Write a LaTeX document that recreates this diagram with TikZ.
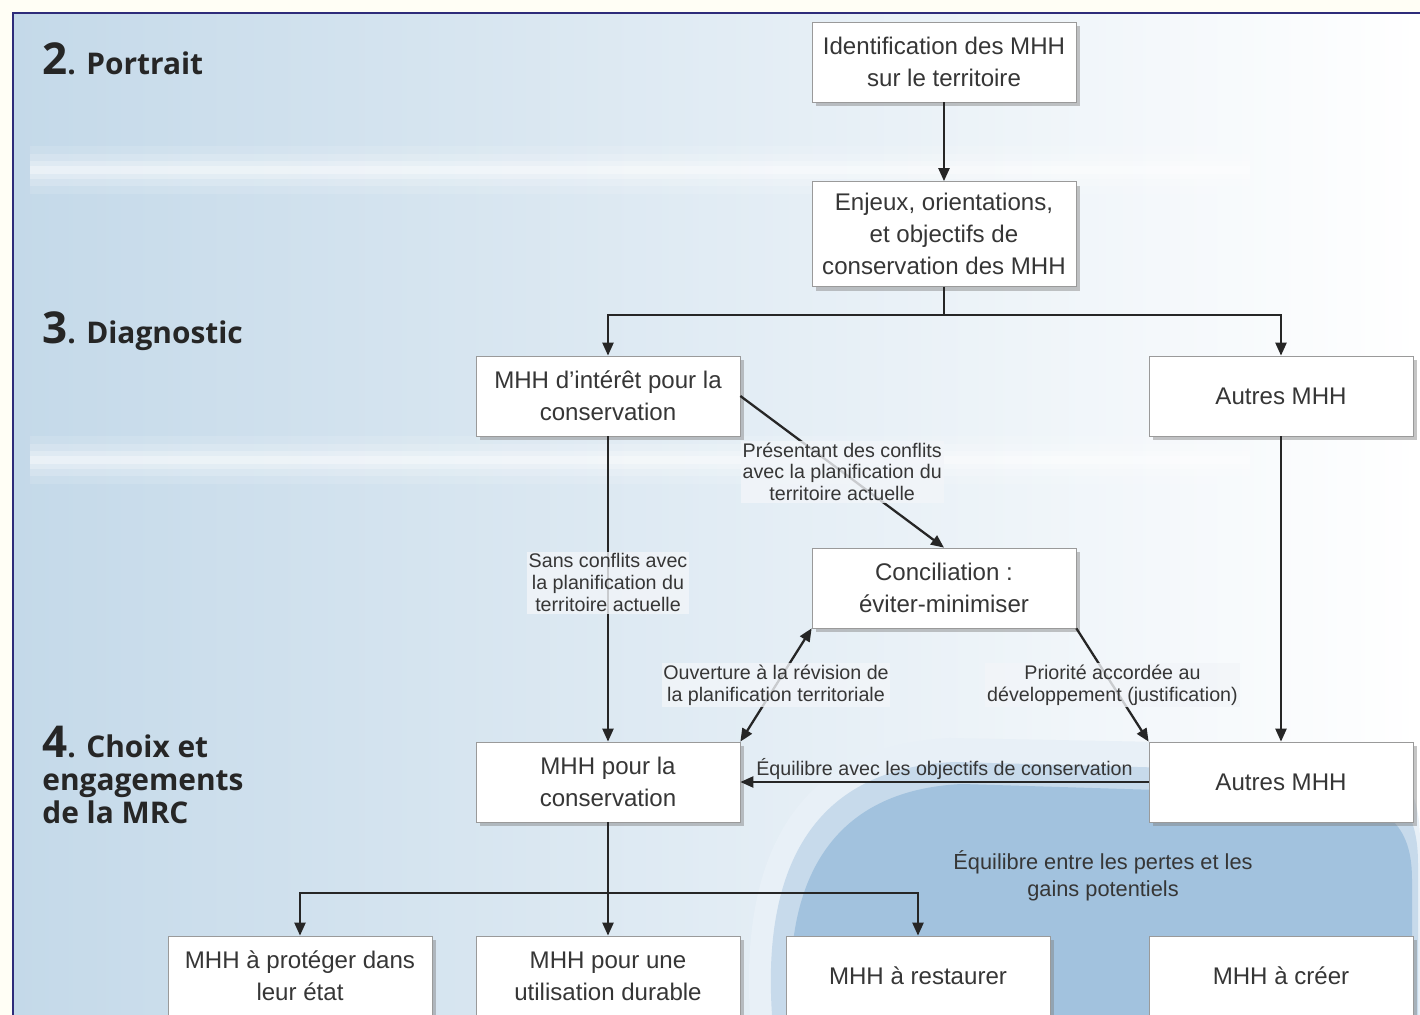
\documentclass[tikz,border=0pt]{standalone}
\usepackage{fontspec}
\setmainfont{Liberation Sans}
\newfontfamily\headfont{Open Sans}
\usetikzlibrary{arrows.meta, positioning, shadows}
\definecolor{framecol}{HTML}{2E2C7A}
\definecolor{bgblue}{HTML}{C4D9E9}
\definecolor{bgmid}{HTML}{DFE7F0}
\definecolor{blobblue}{HTML}{A2C2DE}
\definecolor{boxline}{HTML}{9A9A9A}
\definecolor{txtgray}{HTML}{363636}
\tikzset{
    mhhbox/.style={draw=boxline, fill=white, text=txtgray, align=center, minimum width=5.28cm, minimum height=1.6cm, inner sep=2pt, drop shadow={shadow xshift=2pt, shadow yshift=-2.5pt, opacity=0.45}, font=\fontsize{13.7}{18.2}\selectfont},
    flow/.style={->, >={Triangle[length=2.6mm, width=2.2mm]}, line width=1.3pt, draw=black!85},
    note/.style={align=center, text=txtgray, font=\fontsize{11.2}{12.5}\selectfont, inner sep=1pt},
    notebg/.style={note, fill=white!60!bgmid, fill opacity=0.8, text opacity=1},
    stage/.style={anchor=base west, align=left, inner sep=0pt, font=\headfont\bfseries\fontsize{17}{18.7}\selectfont, text=black!85}
}

\begin{document}
\begin{tikzpicture}[x=0.2mm, y=-0.2mm]
    \useasboundingbox (0,0) rectangle (1420,1015);
    \fill[yellow!4] (0,0) rectangle (1420,1015);
    \shade[left color=bgblue, middle color=bgmid, right color=white] (13,13) rectangle (1420,1015);
    \foreach \yb in {170, 460} {
        \foreach \d/\o in {24/0.12, 16/0.18, 9/0.25, 4/0.35} {
            \fill[white, opacity=\o] (30,\yb-\d) rectangle (1250,\yb+\d);
        }
    }
    \fill[blobblue!25] (750,1015) .. controls (740,850) and (800,745) .. (950,738) -- (1320,745) .. controls (1420,750) and (1420,810) .. (1420,850) -- (1420,1015) -- cycle;
    \fill[blobblue!60] (772,1015) .. controls (762,865) and (815,768) .. (955,762) -- (1320,772) .. controls (1410,777) and (1418,825) .. (1418,865) -- (1418,1015) -- cycle;
    \fill[blobblue] (792,1015) .. controls (782,880) and (832,790) .. (962,784) -- (1320,795) .. controls (1400,800) and (1412,840) .. (1412,880) -- (1412,1015) -- cycle;
    \draw[framecol, line width=1.5pt] (13,1015) -- (13,13) -- (1420,13);

    \node[stage] (portrait) at (42,75) {{\fontsize{25}{25}\selectfont 2}. Portrait};
    \node[stage] (diagnostic) at (42,344) {{\fontsize{25}{25}\selectfont 3}. Diagnostic};
    \node[stage, anchor=north west] (choix) at (42,726) {{\fontsize{25}{25}\selectfont 4}. Choix et\\engagements\\de la MRC};

    \node[mhhbox] (ident) at (944,62) {Identification des MHH\\sur le territoire};
    \node[mhhbox, minimum height=2.1cm] (enjeux) at (944,234) {Enjeux, orientations,\\et objectifs de\\conservation des MHH};
    \node[mhhbox] (interet) at (608,396) {MHH d'intérêt pour la\\conservation};
    \node[mhhbox] (autres) at (1281,396) {Autres MHH};
    \node[mhhbox] (concil) at (944,588) {Conciliation :\\éviter-minimiser};
    \node[mhhbox] (pourcons) at (608,782) {MHH pour la\\conservation};
    \node[mhhbox] (autresb) at (1281,782) {Autres MHH};
    \node[mhhbox] (proteger) at (300,976) {MHH à protéger dans\\leur état};
    \node[mhhbox] (durable) at (608,976) {MHH pour une\\utilisation durable};
    \node[mhhbox] (restaurer) at (918,976) {MHH à restaurer};
    \node[mhhbox] (creer) at (1281,976) {MHH à créer};
    \node[note, font=\fontsize{12.4}{15.3}\selectfont] (balance) at (1103,876) {Équilibre entre les pertes et les\\gains potentiels};

    \draw[flow] (ident) -- (enjeux);
    \draw[flow] (enjeux.south) -- ++(0,28) -| (interet.north);
    \draw[flow] (enjeux.south) -- ++(0,28) -| (autres.north);
    \draw[flow] (interet) -- node[notebg, pos=0.48] {Sans conflits avec\\la planification du\\territoire actuelle} (pourcons);
    \draw[flow] (interet.east) -- node[notebg] {Présentant des conflits\\avec la planification du\\territoire actuelle} (concil.north);
    \draw[flow, <->] (pourcons.north east) -- node[notebg] {Ouverture à la révision de\\la planification territoriale} (concil.south west);
    \draw[flow] (concil.south east) -- node[notebg] {Priorité accordée au\\développement (justification)} (autresb.north west);
    \draw[flow] (autres) -- (autresb);
    \draw[flow] (autresb) -- node[note, above] {Équilibre avec les objectifs de conservation} (pourcons);
    \draw[flow] (pourcons) -- (durable);
    \draw[flow] (pourcons.south) -- ++(0,71) -| (proteger.north);
    \draw[flow] (pourcons.south) -- ++(0,71) -| (restaurer.north);
\end{tikzpicture}
\end{document}
